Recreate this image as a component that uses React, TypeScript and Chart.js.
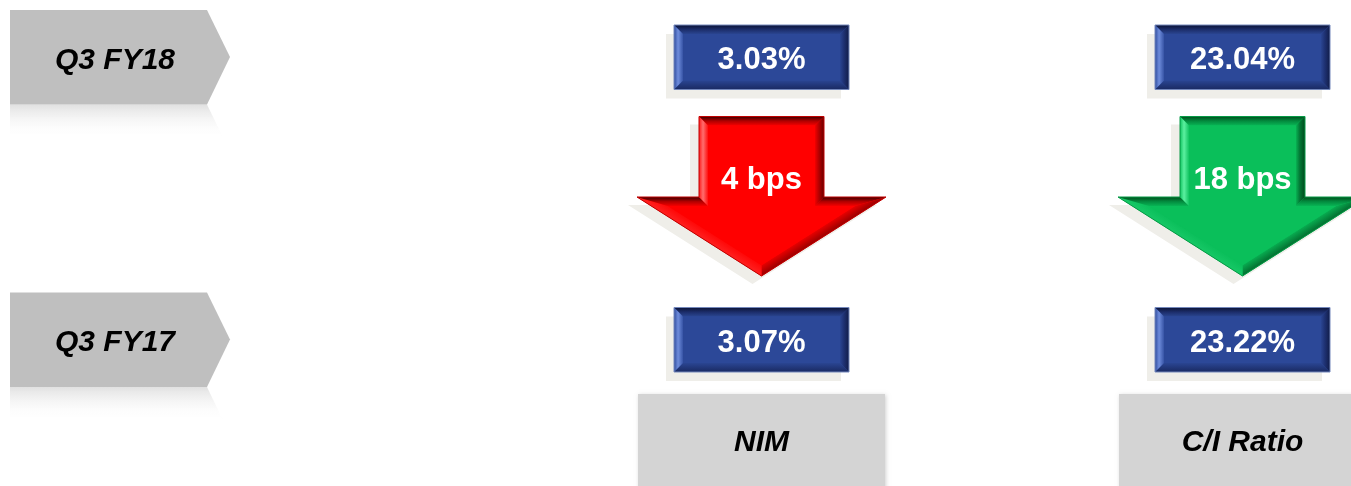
import React, { useEffect, useRef } from "react";
import { Chart, registerables } from "chart.js";
Chart.register(...registerables);

// ---- data ----
const periods = ["Q3 FY18", "Q3 FY17"];
const metrics = ["NIM", "C/I Ratio"];
const currentValues = [3.03, 23.04]; // Q3 FY18
const previousValues = [3.07, 23.22]; // Q3 FY17
const changeBps = [4, 18];
const lowerIsBetter = [false, true];

// ---- layout (scale units) ----
const W = 1351;
const H = 486;
const periodRowY = [57, 339.5];
const metricColX = [761.5, 1242.5];
const FONT = '"Liberation Sans", Arial, sans-serif';

type Pt = [number, number];
type Stops = [number, string][];

function inset(pts: Pt[], d: number): Pt[] {
  const n = pts.length;
  const lines = pts.map((p, i) => {
    const q = pts[(i + 1) % n];
    const dx = q[0] - p[0];
    const dy = q[1] - p[1];
    const len = Math.hypot(dx, dy);
    const nx = -dy / len;
    const ny = dx / len;
    return { p: [p[0] + nx * d, p[1] + ny * d] as Pt, dir: [dx, dy] as Pt };
  });
  const out: Pt[] = [];
  for (let i = 0; i < n; i++) {
    const a = lines[(i - 1 + n) % n];
    const b = lines[i];
    const den = a.dir[0] * b.dir[1] - a.dir[1] * b.dir[0];
    if (Math.abs(den) < 1e-9) {
      out.push(b.p);
      continue;
    }
    const t = ((b.p[0] - a.p[0]) * b.dir[1] - (b.p[1] - a.p[1]) * b.dir[0]) / den;
    out.push([a.p[0] + a.dir[0] * t, a.p[1] + a.dir[1] * t]);
  }
  return out;
}

function pathPoly(ctx: CanvasRenderingContext2D, pts: Pt[]) {
  ctx.beginPath();
  pts.forEach((p, i) => (i ? ctx.lineTo(p[0], p[1]) : ctx.moveTo(p[0], p[1])));
  ctx.closePath();
}

interface Shades {
  base: string;
  top: Stops;
  left: Stops;
  right: Stops;
  bottomL: Stops;
  bottomR: Stops;
  border: string;
}

function bevelPoly(ctx: CanvasRenderingContext2D, pts: Pt[], d: number, s: Shades, shadow: Pt | null) {
  if (shadow) {
    ctx.save();
    ctx.translate(shadow[0], shadow[1]);
    pathPoly(ctx, pts);
    ctx.fillStyle = "#efeee9";
    ctx.fill();
    ctx.restore();
  }
  pathPoly(ctx, pts);
  ctx.fillStyle = s.base;
  ctx.fill();
  const inner = inset(pts, d);
  const n = pts.length;
  for (let i = 0; i < n; i++) {
    const a = pts[i];
    const b = pts[(i + 1) % n];
    const dx = b[0] - a[0];
    const dy = b[1] - a[1];
    const len = Math.hypot(dx, dy);
    const ox = dy / len; // outward normal
    const oy = -dx / len;
    let stops: Stops;
    if (oy < -0.5) stops = s.top;
    else if (oy > 0.5) stops = ox < -0.05 ? s.bottomL : ox > 0.05 ? s.bottomR : s.bottomL;
    else stops = ox < 0 ? s.left : s.right;
    const mx = (a[0] + b[0]) / 2;
    const my = (a[1] + b[1]) / 2;
    const g = ctx.createLinearGradient(mx, my, mx - ox * d, my - oy * d);
    stops.forEach(([o, c]) => g.addColorStop(o, c));
    pathPoly(ctx, [a, b, inner[(i + 1) % n], inner[i]]);
    ctx.fillStyle = g;
    ctx.fill();
  }
  pathPoly(ctx, inner);
  ctx.fillStyle = s.base;
  ctx.fill();
  pathPoly(ctx, pts);
  ctx.strokeStyle = s.border;
  ctx.lineWidth = 1;
  ctx.stroke();
}

function centeredText(ctx: CanvasRenderingContext2D, txt: string, x: number, y: number, size: number, style: string, color: string) {
  ctx.font = `${style} ${size}px ${FONT}`;
  ctx.fillStyle = color;
  ctx.textAlign = "center";
  ctx.textBaseline = "alphabetic";
  ctx.fillText(txt, x, y + size * 0.358);
}

const blueShades: Shades = {
  base: "#2c4898",
  top: [[0, "#0b1336"], [0.5, "#1c2d6a"], [1, "#2a4590"]],
  left: [[0, "#2f4c9e"], [0.45, "#6f8ddc"], [1, "#3754a6"]],
  right: [[0, "#111c48"], [0.6, "#1f3274"], [1, "#2a4592"]],
  bottomL: [[0, "#1a2a62"], [1, "#2a4592"]],
  bottomR: [[0, "#1a2a62"], [1, "#2a4592"]],
  border: "#7488bc",
};
const redShades: Shades = {
  base: "#ff0000",
  top: [[0, "#3c0000"], [0.5, "#b00000"], [1, "#f40000"]],
  left: [[0, "#ff1a1a"], [0.45, "#ff6e6e"], [1, "#ff1010"]],
  right: [[0, "#6a0000"], [0.6, "#b80000"], [1, "#f00000"]],
  bottomL: [[0, "#ff2020"], [1, "#ff0808"]],
  bottomR: [[0, "#9a0000"], [1, "#e80000"]],
  border: "#c00000",
};
const greenShades: Shades = {
  base: "#0abf5a",
  top: [[0, "#00501c"], [0.5, "#038a3e"], [1, "#08b454"]],
  left: [[0, "#10c460"], [0.45, "#5cf0a0"], [1, "#12c462"]],
  right: [[0, "#004a1c"], [0.6, "#037a36"], [1, "#08b052"]],
  bottomL: [[0, "#16c866"], [1, "#0bbf5b"]],
  bottomR: [[0, "#036e30"], [1, "#08ac50"]],
  border: "#069a46",
};

const infographicPlugin = {
  id: "infographic",
  afterDraw(chart: any) {
    const ctx: CanvasRenderingContext2D = chart.ctx;
    const xs = chart.scales.x;
    const ys = chart.scales.y;
    const X = (v: number) => xs.getPixelForValue(v);
    const Y = (v: number) => ys.getPixelForValue(v);

    ctx.save();
    // period tags
    periods.forEach((label, i) => {
      const cy = periodRowY[i];
      const l = X(10), r = X(207), tip = X(230);
      const t = Y(cy - 47), b = Y(cy + 47.5), m = Y(cy);
      const pts: Pt[] = [[l, t], [r, t], [tip, m], [r, b], [l, b]];
      const refl: Pt[] = [[l, b], [r, b], [tip, b + (b - m)], [l, b + (b - m)]];
      const g = ctx.createLinearGradient(0, b, 0, b + 34);
      g.addColorStop(0, "rgba(200,200,200,0.55)");
      g.addColorStop(1, "rgba(255,255,255,0)");
      pathPoly(ctx, refl);
      ctx.fillStyle = g;
      ctx.fill();
      pathPoly(ctx, pts);
      ctx.fillStyle = "#bfbfbf";
      ctx.fill();
      centeredText(ctx, label, X(115), m + 1, 30, "italic bold", "#000000");
    });

    metrics.forEach((name, j) => {
      const cx = metricColX[j];
      const rows = [currentValues[j], previousValues[j]];
      rows.forEach((v, i) => {
        const cy = periodRowY[i];
        const pts: Pt[] = [
          [X(cx - 87.5), Y(cy - 32)],
          [X(cx + 87.5), Y(cy - 32)],
          [X(cx + 87.5), Y(cy + 32.5)],
          [X(cx - 87.5), Y(cy + 32.5)],
        ];
        bevelPoly(ctx, pts, 9, blueShades, [-8, 9]);
        centeredText(ctx, v.toFixed(2) + "%", X(cx), Y(cy) + 1, 31, "bold", "#ffffff");
      });

      // arrow
      const down = currentValues[j] < previousValues[j];
      const good = down === lowerIsBetter[j];
      const sh = good ? greenShades : redShades;
      const top = 116.5, wingY = 197, tipY = 276;
      const arrow: Pt[] = down
        ? [
            [X(cx - 62.5), Y(top)],
            [X(cx + 62.5), Y(top)],
            [X(cx + 62.5), Y(wingY)],
            [X(cx + 124.5), Y(wingY)],
            [X(cx), Y(tipY)],
            [X(cx - 124.5), Y(wingY)],
            [X(cx - 62.5), Y(wingY)],
          ]
        : [
            [X(cx), Y(top)],
            [X(cx + 124.5), Y(top + 80)],
            [X(cx + 62.5), Y(top + 80)],
            [X(cx + 62.5), Y(tipY)],
            [X(cx - 62.5), Y(tipY)],
            [X(cx - 62.5), Y(top + 80)],
            [X(cx - 124.5), Y(top + 80)],
          ];
      bevelPoly(ctx, arrow, 9, sh, [-9, 8]);
      centeredText(ctx, `${changeBps[j]} bps`, X(cx), Y(178), 31, "bold", "#ffffff");

      // metric label box
      ctx.save();
      ctx.shadowColor = "rgba(0,0,0,0.18)";
      ctx.shadowBlur = 4;
      ctx.shadowOffsetX = 1;
      ctx.shadowOffsetY = 1;
      ctx.fillStyle = "#d4d4d4";
      ctx.fillRect(X(cx - 123.5), Y(394), X(cx + 123.5) - X(cx - 123.5), Y(H + 10) - Y(394));
      ctx.restore();
      centeredText(ctx, name, X(cx), Y(440.5), 30, "italic bold", "#000000");
    });
    ctx.restore();
  },
};

export default function App() {
  const ref = useRef<HTMLCanvasElement | null>(null);
  useEffect(() => {
    document.body.style.margin = "0";
    const c = ref.current;
    if (!c) return;
    const chart = new Chart(c, {
      type: "scatter",
      data: { datasets: [{ data: [], pointRadius: 0 }] },
      options: {
        animation: false,
        responsive: false,
        events: [],
        layout: { padding: 0 },
        plugins: { legend: { display: false }, tooltip: { enabled: false }, title: { display: false } },
        scales: {
          x: { type: "linear", display: false, min: 0, max: W },
          y: { type: "linear", display: false, min: 0, max: H, reverse: true },
        },
      },
      plugins: [infographicPlugin],
    });
    return () => chart.destroy();
  }, []);
  return (
    <div style={{ width: W, height: H, background: "#ffffff" }}>
      <canvas ref={ref} width={W} height={H} style={{ display: "block" }} />
    </div>
  );
}
